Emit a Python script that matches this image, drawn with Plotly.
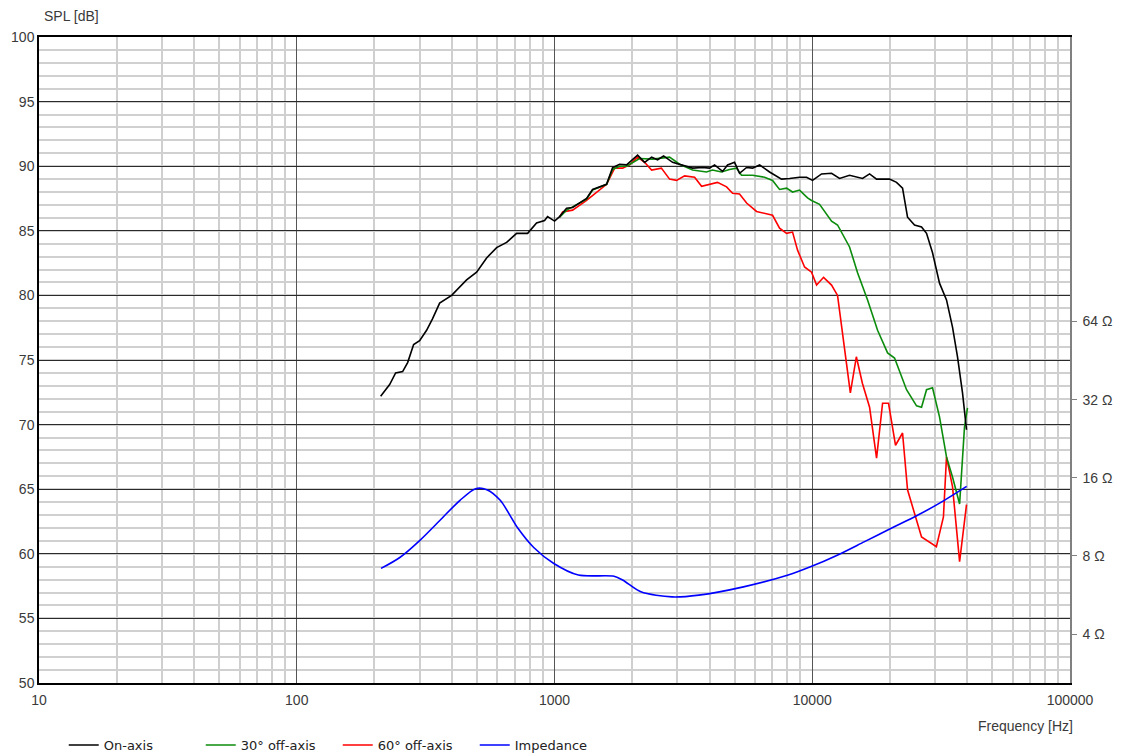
import plotly.graph_objects as go

# ---------------- data ----------------
freq_on = [211.6, 229.3, 241.9, 257.5, 269.3, 284.1, 299.7, 319.0, 336.6, 358.4,
           398.9, 456.0, 498.7, 545.3, 596.3, 652.0, 712.9, 786.5, 852.0, 915.3,
           940.0, 1000.7, 1046.6, 1114.0, 1175.4, 1331.8, 1405.2, 1592.6, 1680.3, 1788.4,
           1904.0, 2101.0, 2236.5, 2380.9, 2511.9, 2650.2, 2871.3, 3140.0, 3433.4, 3754.3,
           3995.9, 4178.5, 4488.6, 4693.6, 4995.0, 5223.0, 5563.0, 5868.7, 6246.0, 6830.0,
           7601.0, 8166.0, 8926.0, 9504.0, 10028, 10866, 11882, 12762, 13954, 15673,
           16689, 17763, 19948, 21232, 22405, 23427, 24935, 26546, 27758, 29285,
           31170, 33178, 35007, 36606, 38282, 39672]
spl_on = [72.2, 73.1, 74.0, 74.1, 74.8, 76.2, 76.5, 77.3, 78.2, 79.4,
          80.0, 81.2, 81.8, 82.9, 83.7, 84.1, 84.8, 84.8, 85.6, 85.8,
          86.1, 85.75, 86.1, 86.75, 86.8, 87.5, 88.2, 88.6, 89.9, 90.15,
          90.1, 90.85, 90.3, 90.7, 90.5, 90.8, 90.3, 90.1, 89.85, 89.9,
          89.85, 90.1, 89.6, 90.1, 90.3, 89.45, 89.9, 89.85, 90.1, 89.55,
          89.0, 89.05, 89.15, 89.15, 88.9, 89.4, 89.45, 89.05, 89.3, 89.05,
          89.4, 89.0, 89.0, 88.75, 88.3, 86.05, 85.45, 85.3, 84.8, 83.3,
          80.95, 79.65, 77.55, 75.25, 72.45, 69.6]

freq_30 = [1046.6, 1114.0, 1175.4, 1331.8, 1405.2, 1592.6, 1680.3, 1788.4, 1904.0, 2138.0,
           2402.0, 2796.0, 3057.0, 3433.4, 3887.0, 4102.0, 4445.0, 4773.0, 5082.0, 5314.0,
           5868.7, 6531.0, 7015.0, 7468.0, 7950.0, 8387.0, 8926.0, 9590.0, 9938.0, 10675,
           11882, 12536, 13954, 14990, 16392, 17925, 19600, 20860, 23217, 25387,
           26546, 27758, 29285, 31170, 33178, 35007, 37298, 38282, 38964, 40030]
spl_30 = [86.05, 86.6, 86.85, 87.45, 88.15, 88.6, 89.75, 90.0, 90.0, 90.6,
          90.55, 90.7, 90.15, 89.7, 89.55, 89.7, 89.55, 89.75, 89.85, 89.3,
          89.3, 89.15, 88.9, 88.2, 88.3, 88.0, 88.15, 87.55, 87.35, 87.05,
          85.75, 85.45, 83.75, 81.75, 79.65, 77.3, 75.55, 75.15, 72.7, 71.45,
          71.35, 72.7, 72.85, 70.6, 67.5, 65.95, 63.85, 67.25, 69.8, 71.3]

freq_60 = [1046.6, 1075.0, 1175.4, 1331.8, 1592.6, 1711.0, 1838.0, 1956.0, 2101.0, 2236.5,
           2380.9, 2598.0, 2796.0, 2976.0, 3197.0, 3496.0, 3721.0, 3925.0, 4287.0, 4652.0,
           4909.0, 5223.0, 5563.0, 6080.0, 6648.0, 7015.0, 7468.0, 7950.0, 8387.0, 8770.0,
           9335.0, 9938.0, 10394, 11065, 11882, 12536, 13320, 14056, 14829, 15649,
           16689, 17763, 18742, 19770, 21043, 22405, 23427, 26546, 30313, 32280,
           33178, 35007, 37298, 39672]
spl_60 = [86.05, 86.45, 86.6, 87.35, 88.6, 89.85, 89.85, 90.1, 90.7, 90.3,
          89.7, 89.85, 89.0, 88.9, 89.25, 89.15, 88.45, 88.55, 88.75, 88.4,
          87.9, 87.85, 87.15, 86.5, 86.3, 86.2, 85.2, 84.8, 84.9, 83.5,
          82.2, 81.8, 80.8, 81.4, 80.8, 80.0, 76.0, 72.45, 75.25, 73.2,
          71.35, 67.4, 71.65, 71.65, 68.4, 69.35, 64.95, 61.3, 60.55, 62.85,
          67.5, 65.2, 59.4, 63.8]

freq_imp = [212.3, 251.1, 300.5, 359.7, 429.9, 494.1, 546.3, 615.8, 722.5, 830.5,
            993.8, 1237.6, 1702.6, 1844.0, 2163.0, 2859.0, 3632.0, 5410.0, 8064.0, 9840.0,
            12503, 15884, 20160, 25616, 32538, 39710]
imp_ohm = [7.16, 7.89, 9.19, 10.98, 13.1, 14.53, 14.4, 13.1, 10.2, 8.62,
           7.48, 6.75, 6.68, 6.45, 5.82, 5.56, 5.65, 6.08, 6.75, 7.26,
           8.05, 9.06, 10.2, 11.47, 13.1, 14.82]

x_tick_vals = [10, 100, 1000, 10000, 100000]
x_tick_text = ["10", "100", "1000", "10000", "100000"]
y_tick_vals = [50, 55, 60, 65, 70, 75, 80, 85, 90, 95, 100]
z_tick_vals = [4, 8, 16, 32, 64]
z_tick_text = ["4 Ω", "8 Ω", "16 Ω", "32 Ω", "64 Ω"]
x_minor_vals = [m * 10 ** d for d in range(1, 5) for m in range(2, 10)]

# ---------------- figure ----------------
tick_font = dict(family="Liberation Sans, Arial", size=14, color="#3a3a3a")

fig = go.Figure()
fig.add_trace(go.Scatter(x=freq_60, y=spl_60, name="60° off-axis", mode="lines",
                         line=dict(color="#ff0000", width=1.6), legendrank=3))
fig.add_trace(go.Scatter(x=freq_30, y=spl_30, name="30° off-axis", mode="lines",
                         line=dict(color="#0c8c0c", width=1.6), legendrank=2))
fig.add_trace(go.Scatter(x=freq_on, y=spl_on, name="On-axis", mode="lines",
                         line=dict(color="#000000", width=1.6), legendrank=1))
fig.add_trace(go.Scatter(x=freq_imp, y=imp_ohm, name="Impedance", mode="lines", yaxis="y2",
                         line=dict(color="#0000ff", width=1.6, shape="spline", smoothing=0.8),
                         legendrank=4))

# page body adds an 8 px margin, so the figure is offset to fit the 1122x756 window
fig.update_layout(
    width=1106, height=748,
    margin=dict(l=31, r=44, t=29, b=73, autoexpand=False),
    plot_bgcolor="white", paper_bgcolor="white",
    showlegend=True,
    legend=dict(orientation="h", x=0.024, xanchor="left", y=-0.096, yanchor="middle",
                font=dict(family="DejaVu Sans", size=13, color="#222222"),
                bgcolor="rgba(0,0,0,0)", entrywidth=92, entrywidthmode="pixels",
                traceorder="normal"),
    xaxis=dict(type="log", range=[1, 5], tickmode="array", tickvals=x_tick_vals,
               ticktext=x_tick_text, showgrid=True, gridcolor="#555555", gridwidth=1,
               minor=dict(tickmode="array", tickvals=x_minor_vals, showgrid=True,
                          gridcolor="#cfcfcf", gridwidth=1.5, ticks=""),
               showline=True, linecolor="#000000", linewidth=1.5, mirror=True,
               ticks="", zeroline=False, tickfont=tick_font, automargin=False,
               ticklabelstandoff=3),
    yaxis=dict(range=[50, 100], tickmode="array", tickvals=y_tick_vals,
               showgrid=True, gridcolor="#2a2a2a", gridwidth=1,
               minor=dict(dtick=1, tick0=50, showgrid=True, gridcolor="#d0d0d0",
                          gridwidth=1.5, ticks=""),
               showline=True, linecolor="#000000", linewidth=1.5,
               ticks="", zeroline=False, tickfont=tick_font, automargin=False),
    yaxis2=dict(overlaying="y", side="right", type="log", range=[0.4134, 2.9026],
                tickmode="array", tickvals=z_tick_vals, ticktext=z_tick_text,
                showgrid=False, zeroline=False, ticks="outside", ticklen=5,
                tickcolor="#808080", showline=True, linecolor="#808080", linewidth=1.5,
                tickfont=tick_font, automargin=False, ticklabelstandoff=3),
    annotations=[
        dict(text="SPL [dB]", xref="paper", yref="paper", x=0.003, y=1.0325,
             xanchor="left", yanchor="middle", showarrow=False, font=tick_font),
        dict(text="Frequency [Hz]", xref="paper", yref="paper", x=1.0053, y=-0.066,
             xanchor="right", yanchor="middle", showarrow=False, font=tick_font),
    ],
)

fig.write_html("out.html")
